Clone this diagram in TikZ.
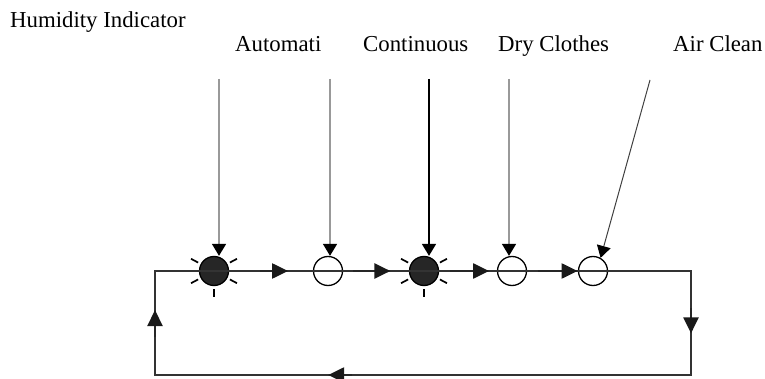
\documentclass[tikz,border=0pt]{standalone}
\usepackage{fontspec}
\setmainfont{Liberation Serif}
\usetikzlibrary{arrows.meta,calc}
\begin{document}
\begin{tikzpicture}[x=1pt,y=-1pt,
  lbl/.style={anchor=base west,inner sep=0pt,font=\fontsize{22.8}{26}\selectfont},
  lamp/.style={circle,draw=black,line width=1.3pt,minimum size=29pt,inner sep=0pt},
  onlamp/.style={lamp,fill=black!85},
  offlamp/.style={lamp},
  ray/.style={line width=1.7pt,black},
  feed/.style={line width=1.5pt,-{Triangle[length=12pt,width=14pt,color=black]}},
  loopline/.style={line width=1.4pt,black!80},
  looparrow/.style={line width=2.2pt,black!85,-{Triangle[length=16pt,width=15pt,color=black!90]}}]
\useasboundingbox (0,0) rectangle (765,379);
% labels
\node[lbl] (hum) at (10,28) {Humidity Indicator};
\node[lbl] (aut) at (235,52) {Automati};
\node[lbl] (con) at (363,52) {Continuous};
\node[lbl] (dry) at (498,52) {Dry Clothes};
\node[lbl] (air) at (673,52) {Air Clean};
% lamps
\node[onlamp] (l1) at (214,271) {};
\node[offlamp] (l2) at (328,271) {};
\node[onlamp] (l3) at (424,271) {};
\node[offlamp] (l4) at (512,271) {};
\node[offlamp] (l5) at (593,271) {};
\foreach \l in {l1,l3}{
  \foreach \a in {28,152,208,332,90}
    \draw[ray] ($(\l)+(\a:18)$) -- ($(\l)+(\a:26)$);
}
% loop corners
\coordinate (c1) at (155,271);
\coordinate (c2) at (691,271);
\coordinate (c3) at (691,375);
\coordinate (c4) at (155,375);
\draw[loopline] (c1) -- (l1.center) -- (l2.center) -- (l3.center) -- (l4.center) -- (l5.center) -- (c2) -- (c3) -- (c4) -- cycle;
% loop arrows
\draw[looparrow] ($(l1)!0.40!(l2)$) -- ($(l1)!0.65!(l2)$);
\draw[looparrow] ($(l2)!0.26!(l3)$) -- ($(l2)!0.65!(l3)$);
\draw[looparrow] ($(l3)!0.30!(l4)$) -- ($(l3)!0.74!(l4)$);
\draw[looparrow] ($(l4)!0.32!(l5)$) -- ($(l4)!0.81!(l5)$);
\draw[looparrow] ($(c2)!0.36!(c3)$) -- ($(c2)!0.60!(c3)$);
\draw[looparrow] ($(c3)!0.632!(c4)$) -- ($(c3)!0.677!(c4)$);
\draw[looparrow] ($(c4)!0.365!(c1)$) -- ($(c4)!0.625!(c1)$);
% feed lines
\coordinate (t1) at (219,79);
\coordinate (t2) at (330,79);
\coordinate (t3) at (429,79);
\coordinate (t4) at (509,79);
\coordinate (t5) at (650,80);
\draw[feed,draw=black!40] (t1) -- (t1 |- l1.north);
\draw[feed,draw=black!40] (t2) -- (t2 |- l2.north);
\draw[feed,draw=black,line width=1.7pt] (t3) -- (t3 |- l3.north);
\draw[feed,draw=black!40] (t4) -- (t4 |- l4.north);
\draw[feed,draw=black!75,line width=1pt] (t5) -- (l5.60);
\end{tikzpicture}
\end{document}
